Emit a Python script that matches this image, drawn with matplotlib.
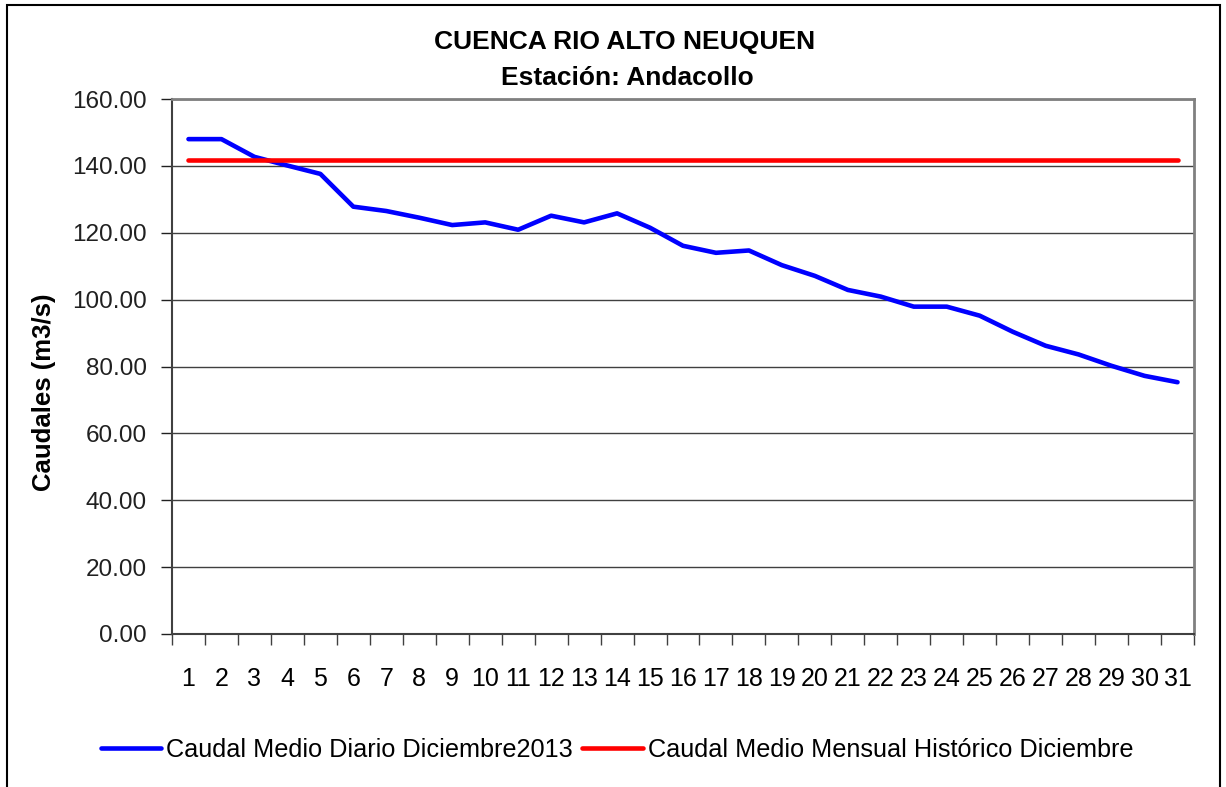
import matplotlib

matplotlib.use('Agg')
import numpy as np
import matplotlib.pyplot as plt
from matplotlib.patches import Rectangle

plt.rcParams['font.family'] = ['Liberation Sans', 'DejaVu Sans']

# Data
days = list(range(1, 32))
caudal_diario = [148.0, 148.0, 142.7, 140.1, 137.6, 127.8, 126.5, 124.5, 122.3, 123.1,
                 120.9, 125.1, 123.1, 125.8, 121.5, 116.1, 114.0, 114.7, 110.3, 107.1,
                 102.9, 100.9, 97.9, 97.9, 95.2, 90.4, 86.2, 83.6, 80.2, 77.2, 75.3]
caudal_historico = [141.8] * 31
y_ticks = [0, 20, 40, 60, 80, 100, 120, 140, 160]

fig = plt.figure(figsize=(12.26, 7.87), dpi=100)
ax = fig.add_axes([172 / 1226, 1 - 634 / 787, (1194 - 172) / 1226, (634 - 99) / 787])

# Outer border of the chart
fig.patches.append(Rectangle((7 / 1226, -0.01), (1220 - 7) / 1226, 1 - 5 / 787 + 0.01,
                             transform=fig.transFigure, fill=False,
                             edgecolor='black', linewidth=1.5))

l1, = ax.plot(days, caudal_diario, color='#0000ff', linewidth=3.3,
              solid_capstyle='round', solid_joinstyle='round',
              label='Caudal Medio Diario Diciembre2013')
l2, = ax.plot(days, caudal_historico, color='#ff0000', linewidth=3.3,
              solid_capstyle='round', label='Caudal Medio Mensual Histórico Diciembre')

ax.set_xlim(0.5, 31.5)
ax.set_ylim(0, 160)

# y axis
ax.set_yticks(y_ticks)
ax.set_yticklabels([f'{v:.2f}' for v in y_ticks])
ax.tick_params(axis='y', direction='out', length=8, width=1, pad=10,
               labelsize=17.5, colors='#202020')
ax.yaxis.grid(True, color='#404040', linewidth=1)
ax.set_axisbelow(True)

# x axis: tick marks between categories, labels at category centers
ax.set_xticks(np.arange(0.5, 32, 1))
ax.set_xticklabels([])
ax.set_xticks(days, minor=True)
ax.set_xticklabels([str(d) for d in days], minor=True)
ax.tick_params(axis='x', which='major', direction='out', length=8, width=1, color='#404040')
ax.tick_params(axis='x', which='minor', length=0, pad=24, labelsize=18)

for s in ['top', 'right']:
    ax.spines[s].set_color('#808080')
    ax.spines[s].set_linewidth(2)
for s in ['left', 'bottom']:
    ax.spines[s].set_color('#404040')
    ax.spines[s].set_linewidth(1.5)

# Titles
fig.text(625 / 1226, 1 - 42 / 787, 'CUENCA RIO ALTO NEUQUEN', ha='center', va='center',
         fontsize=19, fontweight='bold')
fig.text(627 / 1226, 1 - 78 / 787, 'Estación: Andacollo', ha='center', va='center',
         fontsize=19, fontweight='bold')

fig.text(44 / 1226, 1 - 392 / 787, 'Caudales (m3/s)', rotation=90, ha='center', va='center',
         fontsize=18.5, fontweight='bold')

fig.legend(handles=[l1, l2], loc='center', bbox_to_anchor=(617 / 1226, 1 - 750 / 787),
           ncol=2, frameon=False, fontsize=18.2, handlelength=2.4, handletextpad=0.2,
           columnspacing=0.35)

fig.savefig('out.png', dpi=100)
